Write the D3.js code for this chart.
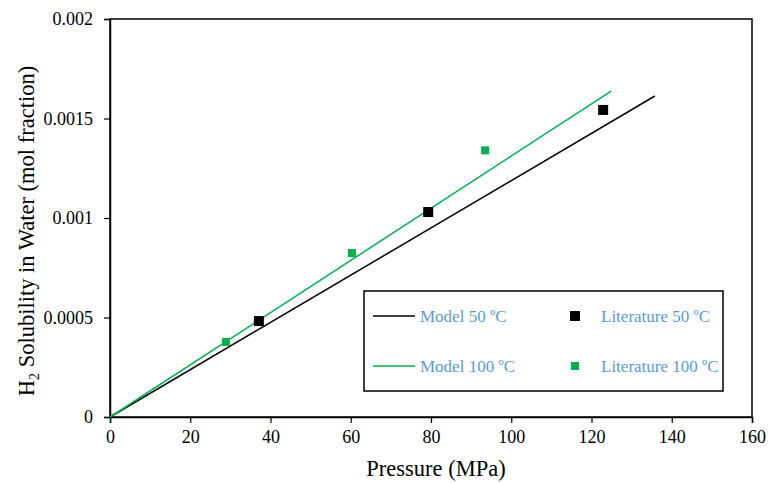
<!DOCTYPE html>
<html>
<head>
<meta charset="utf-8">
<script src="https://cdn.jsdelivr.net/npm/d3@7"></script>
<style>
  body { margin: 0; background: #fff; }
</style>
</head>
<body>
<svg id="chart" width="768" height="483"></svg>
<script>
// data
const xTicks = [0, 20, 40, 60, 80, 100, 120, 140, 160];
const yTicks = [0, 0.0005, 0.001, 0.0015, 0.002];
const model50 = [[0, 0], [135.8, 0.001613]];
const model100 = [[0, 0], [124.9, 0.001638]];
const lit50 = [[37.1, 0.000482], [79.3, 0.00103], [122.9, 0.001543]];
const lit100 = [[28.9, 0.000377], [60.3, 0.000824], [93.5, 0.00134]];

const serif = "Liberation Serif";
const green = "#00b050";
const svg = d3.select("#chart");
const margin = {top: 19, right: 16, bottom: 66, left: 110};
const w = 768 - margin.left - margin.right;
const h = 483 - margin.top - margin.bottom;
const g = svg.append("g").attr("transform", `translate(${margin.left},${margin.top})`);

const x = d3.scaleLinear().domain([0, 160]).range([0, w]);
const y = d3.scaleLinear().domain([0, 0.002]).range([h, 0]);

// frame
g.append("rect").attr("width", w).attr("height", h)
  .attr("fill", "none").attr("stroke", "#000").attr("stroke-width", 1.5);

const xAxis = g.append("g").attr("transform", `translate(0,${h})`)
  .call(d3.axisBottom(x).tickValues(xTicks).tickSize(6).tickPadding(7).tickFormat(d3.format("d")));
const yAxis = g.append("g")
  .call(d3.axisLeft(y).tickValues(yTicks).tickSize(6).tickPadding(11).tickFormat(d => d === 0 ? "0" : String(+d.toFixed(4))));
[xAxis, yAxis].forEach(a => {
  a.attr("font-family", serif);
  a.select(".domain").attr("stroke-width", 1.5);
  a.selectAll(".tick line").attr("stroke-width", 1.2);
  a.selectAll("text").attr("font-size", 18).attr("fill", "#000")
    .style("font-family", serif);
});

const line = d3.line().x(d => x(d[0])).y(d => y(d[1]));
g.append("path").datum(model50).attr("d", line).attr("fill", "none")
  .attr("stroke", "#000").attr("stroke-width", 1.5);
g.append("path").datum(model100).attr("d", line).attr("fill", "none")
  .attr("stroke", green).attr("stroke-width", 1.5);

g.selectAll(".l50").data(lit50).join("rect").attr("class", "l50")
  .attr("x", d => x(d[0]) - 5).attr("y", d => y(d[1]) - 5)
  .attr("width", 10).attr("height", 10).attr("fill", "#000");
g.selectAll(".l100").data(lit100).join("rect").attr("class", "l100")
  .attr("x", d => x(d[0]) - 4).attr("y", d => y(d[1]) - 4)
  .attr("width", 8).attr("height", 8).attr("fill", green);

// axis titles
svg.append("text").attr("x", 436).attr("y", 476)
  .attr("text-anchor", "middle").attr("font-size", 22.5)
  .style("font-family", serif).text("Pressure (MPa)");
const yt = svg.append("text").attr("transform", "translate(34,231) rotate(-90)")
  .attr("text-anchor", "middle").attr("font-size", 22.5).style("font-family", serif);
yt.append("tspan").text("H");
yt.append("tspan").attr("font-size", 14).attr("dy", 5).text("2");
yt.append("tspan").attr("dy", -5).text(" Solubility in Water (mol fraction)");

// legend
const lg = svg.append("g").attr("transform", "translate(364,291)");
lg.append("rect").attr("width", 359).attr("height", 100)
  .attr("fill", "#fff").attr("stroke", "#000").attr("stroke-width", 1.5);
const legendItems = [
  {label: "Model 50 ºC", type: "line", color: "#000", col: 0, row: 0},
  {label: "Literature 50 ºC", type: "sq", size: 10, color: "#000", col: 1, row: 0},
  {label: "Model 100 ºC", type: "line", color: green, col: 0, row: 1},
  {label: "Literature 100 ºC", type: "sq", size: 8, color: green, col: 1, row: 1}
];
legendItems.forEach(d => {
  const cy = 25 + d.row * 50;
  if (d.type === "line") {
    lg.append("line").attr("x1", 9).attr("x2", 51).attr("y1", cy).attr("y2", cy)
      .attr("stroke", d.color).attr("stroke-width", 1.5);
  } else {
    lg.append("rect").attr("x", 211 - d.size / 2).attr("y", cy - d.size / 2)
      .attr("width", d.size).attr("height", d.size).attr("fill", d.color);
  }
  lg.append("text").attr("x", d.col === 0 ? 56 : 237).attr("y", cy + 6)
    .attr("font-size", 17).attr("fill", "#5b9bd5")
    .style("font-family", serif).text(d.label);
});
</script>
</body>
</html>
